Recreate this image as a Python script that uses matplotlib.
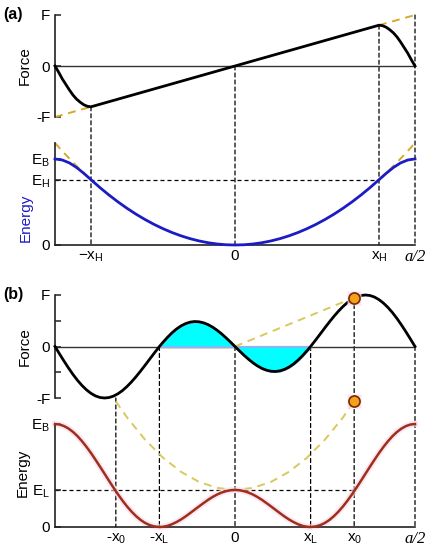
import matplotlib
matplotlib.use('Agg')
import matplotlib.pyplot as plt
from matplotlib.patches import ConnectionPatch

plt.rcParams['font.family'] = ['Liberation Sans', 'DejaVu Sans']
plt.rcParams['font.size'] = 11

# ---------------- data (positions in units of a, forces in units of F) -------------
# panel (a)
xH = 0.40
a_force_x = [-0.50, -0.49, -0.48, -0.47, -0.46, -0.45, -0.44, -0.43, -0.42, -0.41, -0.40,
             0.0,
             0.40, 0.41, 0.42, 0.43, 0.44, 0.45, 0.46, 0.47, 0.48, 0.49, 0.50]
a_force_y = [0.0, -0.12, -0.25, -0.36, -0.47, -0.57, -0.65, -0.71, -0.76, -0.79, -0.80,
             0.0,
             0.80, 0.79, 0.76, 0.71, 0.65, 0.57, 0.47, 0.36, 0.25, 0.12, 0.0]
a_force_ext_x = [[-0.50, -0.40], [0.40, 0.50]]
a_force_ext_y = [[-1.0, -0.80], [0.80, 1.0]]

a_energy_x = [-0.50, -0.48, -0.46, -0.44, -0.42, -0.400, -0.375, -0.350, -0.325, -0.300,
              -0.275, -0.250, -0.225, -0.200, -0.175, -0.150, -0.125, -0.100, -0.075,
              -0.050, -0.025, 0.0, 0.025, 0.050, 0.075, 0.100, 0.125, 0.150, 0.175, 0.200,
              0.225, 0.250, 0.275, 0.300, 0.325, 0.350, 0.375, 0.400, 0.42, 0.44, 0.46,
              0.48, 0.50]
a_energy_y = [0.2109, 0.2084, 0.2012, 0.1899, 0.1757, 0.1600, 0.1406, 0.1225, 0.1056, 0.0900,
              0.0756, 0.0625, 0.0506, 0.0400, 0.0306, 0.0225, 0.0156, 0.0100, 0.0056,
              0.0025, 0.0006, 0.0, 0.0006, 0.0025, 0.0056, 0.0100, 0.0156, 0.0225, 0.0306,
              0.0400, 0.0506, 0.0625, 0.0756, 0.0900, 0.1056, 0.1225, 0.1406, 0.1600,
              0.1757, 0.1899, 0.2012, 0.2084, 0.2109]
a_energy_ext_x = [[-0.500, -0.475, -0.450, -0.425, -0.400], [0.400, 0.425, 0.450, 0.475, 0.500]]
a_energy_ext_y = [[0.2500, 0.2256, 0.2025, 0.1806, 0.1600], [0.1600, 0.1806, 0.2025, 0.2256, 0.2500]]
a_EH, a_EB, a_Etop = 0.16, 0.2109, 0.25
a_xticks = [-0.40, 0.0, 0.40, 0.50]
a_xlabels = [r'−x$\mathregular{_H}$', '0', r'x$\mathregular{_H}$', 'a/2']
a_ylabels_F = ['-F', '0', 'F']
a_ylabels_E = ['0', r'$\mathregular{E_H}$', r'$\mathregular{E_B}$']

# panel (b)
xL, x0 = 0.21, 0.331
b_x = [-0.5, -0.4875, -0.475, -0.4625, -0.45, -0.4375, -0.425, -0.4125, -0.4, -0.3875,
       -0.375, -0.3625, -0.35, -0.3375, -0.325, -0.3125, -0.3, -0.2875, -0.275, -0.2625,
       -0.25, -0.2375, -0.225, -0.21, -0.2, -0.1875, -0.175, -0.1625, -0.15, -0.1375,
       -0.125, -0.1125, -0.1, -0.0875, -0.075, -0.0625, -0.05, -0.0375, -0.025, -0.0125,
       0.0,
       0.0125, 0.025, 0.0375, 0.05, 0.0625, 0.075, 0.0875, 0.1, 0.1125, 0.125,
       0.1375, 0.15, 0.1625, 0.175, 0.1875, 0.2, 0.21, 0.225, 0.2375, 0.25,
       0.2625, 0.275, 0.2875, 0.3, 0.3125, 0.325, 0.3375, 0.35, 0.3625, 0.375,
       0.3875, 0.4, 0.4125, 0.425, 0.4375, 0.45, 0.4625, 0.475, 0.4875, 0.5]
b_force = [0.0, -0.143, -0.283, -0.417, -0.543, -0.657, -0.757, -0.842, -0.910, -0.960,
           -0.990, -1.000, -0.991, -0.963, -0.917, -0.855, -0.777, -0.687, -0.587, -0.479,
           -0.366, -0.250, -0.135, 0.0, 0.082, 0.179, 0.266, 0.340, 0.400, 0.444,
           0.473, 0.485, 0.480, 0.460, 0.426, 0.377, 0.317, 0.247, 0.169, 0.086,
           0.0,
           -0.086, -0.169, -0.247, -0.317, -0.377, -0.426, -0.460, -0.480, -0.485, -0.473,
           -0.444, -0.400, -0.340, -0.266, -0.179, -0.082, 0.0, 0.135, 0.250, 0.366,
           0.479, 0.587, 0.687, 0.777, 0.855, 0.917, 0.963, 0.991, 1.000, 0.990,
           0.960, 0.910, 0.842, 0.757, 0.657, 0.543, 0.417, 0.283, 0.143, 0.0]
b_energy = [1.000, 0.995, 0.980, 0.956, 0.923, 0.882, 0.833, 0.778, 0.718, 0.653,
            0.586, 0.518, 0.449, 0.382, 0.317, 0.256, 0.200, 0.150, 0.106, 0.069,
            0.040, 0.019, 0.006, 0.000, 0.002, 0.011, 0.027, 0.048, 0.073, 0.102,
            0.134, 0.167, 0.200, 0.232, 0.263, 0.291, 0.315, 0.334, 0.348, 0.357,
            0.360,
            0.357, 0.348, 0.334, 0.315, 0.291, 0.263, 0.232, 0.200, 0.167, 0.134,
            0.102, 0.073, 0.048, 0.027, 0.011, 0.002, 0.000, 0.006, 0.019, 0.040,
            0.069, 0.106, 0.150, 0.200, 0.256, 0.317, 0.382, 0.449, 0.518, 0.586,
            0.653, 0.718, 0.778, 0.833, 0.882, 0.923, 0.956, 0.980, 0.995, 1.000]
b_EL, b_EB = 0.36, 1.0
b_Fx0 = 0.95
b_line_x = [0.0, x0]
b_line_y = [0.0, b_Fx0]
b_parab_x = [-0.331, -0.30, -0.25, -0.20, -0.15, -0.10, -0.05, 0.0,
             0.05, 0.10, 0.15, 0.20, 0.25, 0.30, 0.331]
b_parab_y = [1.22, 1.064, 0.849, 0.673, 0.536, 0.438, 0.380, 0.360,
             0.380, 0.438, 0.536, 0.673, 0.849, 1.064, 1.22]
b_xticks = [-0.331, -0.21, 0.0, 0.21, 0.331, 0.50]
b_xlabels = [r'-x$\mathregular{_0}$', r'-x$\mathregular{_L}$', '0',
             r'x$\mathregular{_L}$', r'x$\mathregular{_0}$', 'a/2']
b_ylabels_F = ['-F', '', '0', '', 'F']
b_ylabels_E = ['0', r'$\mathregular{E_L}$', r'$\mathregular{E_B}$']

# ---------------- styles ----------------
YEL_A = '#D6AA2C'
YEL_B = '#D9C85A'
BLUE = '#1C1CC4'
BROWN = '#9E3019'
DASH = (0, (3.2, 2.4))

fig = plt.figure(figsize=(4.3, 5.5), dpi=100)
L, W = 55 / 430, 360 / 430
axFa = fig.add_axes([L, 433 / 550, W, 102 / 550])
axEa = fig.add_axes([L, 305 / 550, W, 102 / 550])
axFb = fig.add_axes([L, 152 / 550, W, 103 / 550])
axEb = fig.add_axes([L, 23 / 550, W, 103 / 550])

for ax in (axFa, axEa, axFb, axEb):
    ax.patch.set_visible(False)
    ax.set_xlim(-0.5, 0.5)
    for s in ('top', 'right'):
        ax.spines[s].set_visible(False)
    ax.spines['left'].set_linewidth(1.2)
    ax.spines['left'].set_color('#222222')
    ax.tick_params(axis='y', direction='in', length=4, width=1.1, pad=3.5,
                   labelsize=11, color='#222222')
    ax.tick_params(axis='x', length=0, pad=3, labelsize=11)

for ax in (axFa, axFb):
    ax.spines['bottom'].set_visible(False)
    ax.set_xticks([])
    ax.set_ylim(-1, 1)
    ax.axhline(0, color='#333333', lw=1.0, zorder=1)
for ax in (axEa, axEb):
    ax.spines['bottom'].set_linewidth(1.2)
    ax.spines['bottom'].set_color('#222222')

# ---- panel (a) force
axFa.set_yticks([-1, 0, 1])
axFa.set_yticklabels(a_ylabels_F)
for ex, ey in zip(a_force_ext_x, a_force_ext_y):
    axFa.plot(ex, ey, color=YEL_A, lw=1.4, ls=(0, (4, 3)), clip_on=False, zorder=2)
axFa.plot(a_force_x, a_force_y, color='black', lw=2.0, clip_on=False, zorder=3,
          solid_joinstyle='round')
axFa.set_ylabel('Force', fontsize=11)
axFa.yaxis.set_label_coords(-0.064, 0.5)

# ---- panel (a) energy
axEa.set_ylim(0, a_Etop)
axEa.set_yticks([0, a_EH, a_EB])
axEa.set_yticklabels(a_ylabels_E)
axEa.set_xticks(a_xticks)
axEa.set_xticklabels(a_xlabels)
for ex, ey in zip(a_energy_ext_x, a_energy_ext_y):
    axEa.plot(ex, ey, color=YEL_A, lw=1.4, ls=(0, (4, 3)), clip_on=False, zorder=2)
axEa.plot(a_energy_x, a_energy_y, color=BLUE, lw=2.0, clip_on=False, zorder=3)
axEa.plot([-0.5, xH], [a_EH, a_EH], color='black', lw=0.9, ls=DASH, zorder=1)
axEa.set_ylabel('Energy', fontsize=11, color=BLUE)
axEa.yaxis.set_label_coords(-0.061, 0.265)

# ---- panel (b) force
axFb.set_yticks([-1, -0.5, 0, 0.5, 1])
axFb.set_yticklabels(b_ylabels_F)
fill_x = [x for x in b_x if abs(x) <= xL + 1e-9]
fill_y = [f for x, f in zip(b_x, b_force) if abs(x) <= xL + 1e-9]
axFb.fill_between(fill_x, fill_y, 0, facecolor='#00FFFF', edgecolor='#86B8F2', lw=1.6,
                  zorder=1.5)
axFb.plot(b_line_x, b_line_y, color=YEL_B, lw=1.4, ls=(0, (4, 3)), zorder=2)
axFb.plot(b_x, b_force, color='black', lw=2.0, clip_on=False, zorder=3)
axFb.plot([x0], [b_Fx0], 's', ms=10, color='#FCDDF0', mec='none', alpha=0.8, zorder=3.5,
          clip_on=False)
axFb.plot([x0], [b_Fx0], 'o', ms=8, mfc='#F4A11C', mec='#7A2800', mew=1.2, zorder=4,
          clip_on=False)
axFb.set_ylabel('Force', fontsize=11)
axFb.yaxis.set_label_coords(-0.064, 0.5)

# ---- panel (b) energy
axEb.set_ylim(0, b_EB)
axEb.set_yticks([0, b_EL, b_EB])
axEb.set_yticklabels(b_ylabels_E)
axEb.set_xticks(b_xticks)
axEb.set_xticklabels(b_xlabels)
axEb.plot(b_parab_x, b_parab_y, color=YEL_B, lw=1.4, ls=(0, (4, 3)), clip_on=False, zorder=2)
axEb.plot(b_x, b_energy, color='#FAD6EE', lw=4.5, alpha=0.6, clip_on=False, zorder=2.5)
axEb.plot(b_x, b_energy, color=BROWN, lw=1.8, clip_on=False, zorder=3)
axEb.plot([-0.5, x0], [b_EL, b_EL], color='black', lw=0.9, ls=DASH, zorder=1)
axEb.plot([x0], [b_parab_y[-1]], 's', ms=10, color='#FCDDF0', mec='none', alpha=0.8,
          zorder=3.5, clip_on=False)
axEb.plot([x0], [b_parab_y[-1]], 'o', ms=8, mfc='#F4A11C', mec='#7A2800', mew=1.2, zorder=4,
          clip_on=False)
axEb.set_ylabel('Energy', fontsize=11)
axEb.yaxis.set_label_coords(-0.069, 0.53)

for ax in (axEa, axEb):
    lab = ax.get_xticklabels()[-1]
    lab.set_fontfamily('Liberation Serif')
    lab.set_fontstyle('italic')
    lab.set_fontsize(12)

# ---- vertical dashed guide lines connecting force and energy panels
a_vlines = [(-xH, -0.80), (0.0, 0.0), (xH, 0.80), (0.5, 1.0)]
b_vlines = [(-x0, -1.0), (-xL, 0.0), (0.0, 0.0), (xL, 0.0), (x0, b_Fx0), (0.5, 0.0)]
for axF, axE, vl in ((axFa, axEa, a_vlines), (axFb, axEb, b_vlines)):
    for xv, yv in vl:
        cp = ConnectionPatch(xyA=(xv, yv), coordsA=axF.transData,
                             xyB=(xv, 0), coordsB=axE.transData,
                             color='black', lw=0.9, ls=DASH, zorder=-1)
        fig.add_artist(cp)

fig.text(3 / 430, 1 - 15 / 550, '(a)', fontsize=11.5, fontweight='bold', va='center')
fig.text(3 / 430, 1 - 295 / 550, '(b)', fontsize=11.5, fontweight='bold', va='center')

fig.savefig('out.png', dpi=100, facecolor='white')
